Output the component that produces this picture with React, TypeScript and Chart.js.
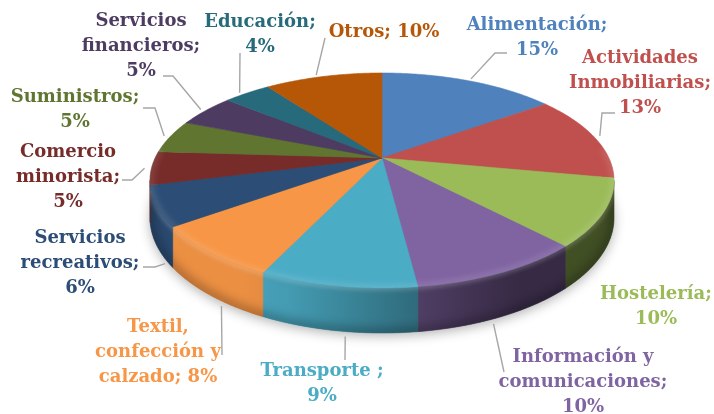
import React, { useEffect, useRef } from "react";
import { Chart, registerables } from "chart.js";

Chart.register(...registerables);

// ---- data ----
const categories = [
  "Alimentación",
  "Actividades Inmobiliarias",
  "Hostelería",
  "Información y comunicaciones",
  "Transporte ",
  "Textil, confección y calzado",
  "Servicios recreativos",
  "Comercio minorista",
  "Suministros",
  "Servicios financieros",
  "Educación",
  "Otros",
];
const shares = [15, 13, 10, 10, 9, 8, 6, 5, 5, 5, 4, 10];
const colors = [
  "#4F81BD",
  "#C0504D",
  "#9BBB59",
  "#8064A2",
  "#4BACC6",
  "#F79646",
  "#2C4D75",
  "#772C2A",
  "#5F7530",
  "#4D3B62",
  "#276A7C",
  "#B65708",
];

// ---- style / layout ----
const FONT = '"DejaVu Serif", serif';
const FONT_SIZE = 18;
const CAP = 0.73;
const LINE_H = 25;
const LEADER = "#A6A6A6";
// perspective tilt of the pie (relative to Chart.js outer radius)
const TILT = { kx: 1.436, ky: 0.6506, h: -0.2093, kd: 0.2253 };

type Lay = {
  x: number;
  y: number;
  lines: number[];
  lead?: [number, number][];
  at?: number;
  wall?: boolean;
};
const LABEL_LAYOUT: Lay[] = [
  { x: 537, y: 23, lines: [1, 1], lead: [[507, 53], [495, 53]], at: 0.5 },
  { x: 640, y: 56, lines: [1, 1, 1], lead: [[615, 113], [602, 113]], at: 0.5 },
  { x: 656, y: 292, lines: [1, 1] },
  { x: 583, y: 355, lines: [2, 1, 1], lead: [[504, 372]], at: 0.55, wall: true },
  { x: 322, y: 369, lines: [2, 1], lead: [[345, 360]], at: 0.45, wall: true },
  { x: 158, y: 325, lines: [1, 2, 2], lead: [[222, 355]], at: 0.375, wall: true },
  { x: 80, y: 236, lines: [1, 1, 1], lead: [[143, 267], [155, 267]], at: 0.2, wall: true },
  { x: 68, y: 150, lines: [1, 1, 1], lead: [[122, 180], [132, 180]], at: 0.5 },
  { x: 75, y: 95, lines: [1, 1], lead: [[143, 108], [155, 108]], at: 0.5 },
  { x: 141, y: 19, lines: [1, 1, 1], lead: [[163, 76], [173, 76]], at: 0.5 },
  { x: 260, y: 20, lines: [1, 1], lead: [[240, 53]], at: 0.4 },
  { x: 384, y: 30, lines: [2], lead: [[325, 38]], at: 0.45 },
];

function proj(cx: number, cy: number, R: number, th: number, s = 1, z = 0): [number, number] {
  const u = Math.cos(th) * s;
  const v = Math.sin(th) * s;
  const den = 1 + TILT.h * v;
  return [cx + (TILT.kx * R * u) / den, cy + (TILT.ky * R * v) / den + (z * TILT.kd * R) / den];
}

function hexRgb(h: string) {
  const n = parseInt(h.slice(1), 16);
  return [(n >> 16) & 255, (n >> 8) & 255, n & 255];
}
function shade(h: string, k: number) {
  const [r, g, b] = hexRgb(h);
  const f = (c: number) => Math.max(0, Math.min(255, Math.round(c * k)));
  return `rgb(${f(r)},${f(g)},${f(b)})`;
}

function curve(ctx: CanvasRenderingContext2D, cx: number, cy: number, R: number, a: number, b: number, z: number, move: boolean) {
  const n = Math.max(2, Math.ceil(Math.abs(b - a) / 0.01));
  for (let i = 0; i <= n; i++) {
    const t = a + ((b - a) * i) / n;
    const [x, y] = proj(cx, cy, R, t, 1, z);
    if (i === 0 && move) ctx.moveTo(x, y);
    else ctx.lineTo(x, y);
  }
}

const pie3d = {
  id: "pie3d",
  beforeDatasetsDraw(chart: any) {
    const ctx: CanvasRenderingContext2D = chart.ctx;
    const arcs = chart.getDatasetMeta(0).data as any[];
    if (!arcs.length) return false;
    const { x: cx, y: cy, outerRadius: R } = arcs[0];
    const cols = chart.data.datasets[0].backgroundColor as string[];
    const t0 = Math.asin(-TILT.h);
    const t1 = Math.PI - t0;

    ctx.save();
    // soft shadow under the pie
    ctx.save();
    ctx.beginPath();
    curve(ctx, cx, cy, R, 0, Math.PI * 2, 1, true);
    ctx.closePath();
    ctx.shadowColor = "rgba(0,0,0,0.3)";
    ctx.shadowBlur = 12;
    ctx.shadowOffsetY = 3;
    ctx.fillStyle = "#777";
    ctx.fill();
    ctx.restore();

    // side walls
    const xl = cx - TILT.kx * R * 1.03;
    const xr = cx + TILT.kx * R * 1.03;
    arcs.forEach((arc, i) => {
      const a = Math.max(arc.startAngle, t0);
      const b = Math.min(arc.endAngle, t1);
      if (b <= a) return;
      const g = ctx.createLinearGradient(xl, 0, xr, 0);
      for (let s = 0; s <= 10; s++) {
        const nx = -1 + (2 * s) / 10;
        const L = Math.max(0.42, Math.min(0.95, 0.7 - 0.5 * nx));
        g.addColorStop(s / 10, shade(cols[i], L));
      }
      ctx.beginPath();
      curve(ctx, cx, cy, R, a, b, 0, true);
      curve(ctx, cx, cy, R, b, a, 1, false);
      ctx.closePath();
      ctx.fillStyle = g;
      ctx.fill();
      ctx.strokeStyle = g;
      ctx.lineWidth = 0.6;
      ctx.stroke();
    });

    // wall lighting: darker towards the bottom, lighter at the rim
    ctx.save();
    ctx.beginPath();
    curve(ctx, cx, cy, R, t0, t1, 0, true);
    curve(ctx, cx, cy, R, t1, t0, 1, false);
    ctx.closePath();
    ctx.clip();
    ctx.filter = "blur(4px)";
    ctx.beginPath();
    curve(ctx, cx, cy, R, t0 - 0.2, t1 + 0.2, 1, true);
    ctx.strokeStyle = "rgba(0,0,0,0.22)";
    ctx.lineWidth = 12;
    ctx.stroke();
    ctx.filter = "blur(2px)";
    ctx.beginPath();
    curve(ctx, cx, cy, R, t0 - 0.2, t1 + 0.2, 0, true);
    ctx.strokeStyle = "rgba(255,255,255,0.2)";
    ctx.lineWidth = 5;
    ctx.stroke();
    ctx.restore();

    // top faces
    arcs.forEach((arc, i) => {
      ctx.beginPath();
      ctx.moveTo(cx, cy);
      curve(ctx, cx, cy, R, arc.startAngle, arc.endAngle, 0, false);
      ctx.closePath();
      ctx.fillStyle = cols[i];
      ctx.fill();
      ctx.strokeStyle = cols[i];
      ctx.lineWidth = 0.6;
      ctx.stroke();
    });

    // bevel highlight on the front rim of the top face
    ctx.save();
    ctx.beginPath();
    curve(ctx, cx, cy, R, 0, Math.PI * 2, 0, true);
    ctx.closePath();
    ctx.clip();
    ctx.filter = "blur(3px)";
    ctx.beginPath();
    curve(ctx, cx, cy, R, t0 - 0.3, t1 + 0.3, 0, true);
    ctx.strokeStyle = "rgba(255,255,255,0.14)";
    ctx.lineWidth = 6;
    ctx.stroke();
    ctx.restore();

    ctx.restore();
    return false;
  },
};

const labelsPlugin = {
  id: "pieLabels",
  afterDraw(chart: any) {
    const ctx: CanvasRenderingContext2D = chart.ctx;
    const arcs = chart.getDatasetMeta(0).data as any[];
    if (!arcs.length) return;
    const { x: cx, y: cy, outerRadius: R } = arcs[0];
    const labels = chart.data.labels as string[];
    const vals = chart.data.datasets[0].data as number[];
    ctx.save();
    LABEL_LAYOUT.forEach((lay, i) => {
      const arc = arcs[i];
      if (lay.lead) {
        const th = arc.startAngle + (arc.endAngle - arc.startAngle) * (lay.at ?? 0.5);
        let end: [number, number];
        if (lay.wall) {
          const p = proj(cx, cy, R, th, 1, 1);
          end = [p[0], p[1] + 5];
        } else end = proj(cx, cy, R, th, 1.03, 0);
        ctx.beginPath();
        ctx.moveTo(lay.lead[0][0], lay.lead[0][1]);
        for (let k = 1; k < lay.lead.length; k++) ctx.lineTo(lay.lead[k][0], lay.lead[k][1]);
        ctx.lineTo(end[0], end[1]);
        ctx.strokeStyle = LEADER;
        ctx.lineWidth = 1.4;
        ctx.stroke();
      }
      const tokens = `${labels[i]}; ${vals[i]}%`.split(" ").filter(Boolean);
      const lines: string[] = [];
      let p = 0;
      lay.lines.forEach((n) => {
        lines.push(tokens.slice(p, p + n).join(" "));
        p += n;
      });
      ctx.font = `bold ${FONT_SIZE}px ${FONT}`;
      ctx.textAlign = "center";
      ctx.textBaseline = "alphabetic";
      ctx.fillStyle = colors[i];
      lines.forEach((ln, k) => {
        ctx.fillText(ln, lay.x, lay.y + k * LINE_H + (CAP * FONT_SIZE) / 2);
      });
    });
    ctx.restore();
  },
};

export default function App() {
  const ref = useRef<HTMLCanvasElement>(null);
  useEffect(() => {
    document.body.style.margin = "0";
    const canvas = ref.current!;
    const chart = new Chart(canvas, {
      type: "pie",
      data: {
        labels: categories,
        datasets: [{ data: shares, backgroundColor: colors, borderWidth: 0 }],
      },
      options: {
        responsive: false,
        animation: false,
        devicePixelRatio: 1,
        events: [],
        layout: { padding: { left: 50, right: 0, top: 0, bottom: 98 } },
        plugins: {
          legend: { display: false },
          tooltip: { enabled: false },
          title: { display: false },
        },
      },
      plugins: [pie3d, labelsPlugin],
    } as any);
    return () => chart.destroy();
  }, []);
  return (
    <div style={{ width: 714, height: 414, background: "#fff" }}>
      <canvas ref={ref} width={714} height={414} style={{ display: "block" }} />
    </div>
  );
}
